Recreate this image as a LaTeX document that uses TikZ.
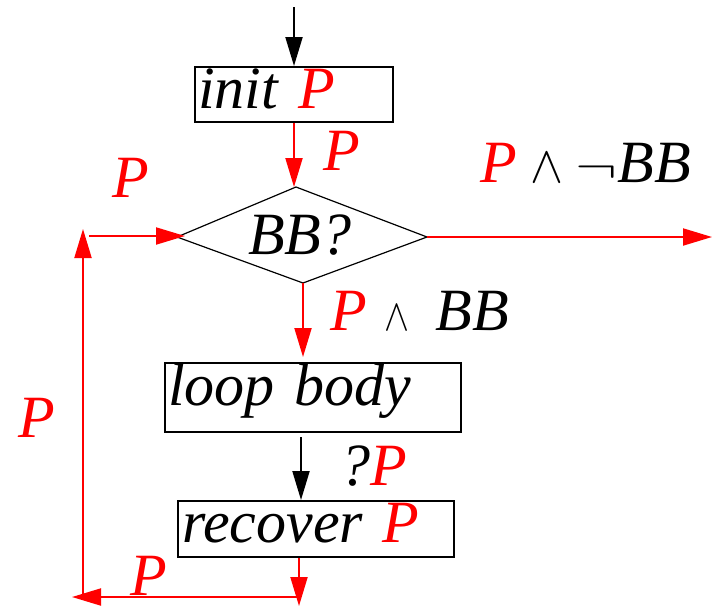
\documentclass[tikz,border=0pt]{standalone}
\usepackage{fontspec}
\usepackage{graphicx}
\setmainfont{Liberation Serif}[ItalicFont={Liberation Serif Italic}]
\usetikzlibrary{arrows.meta}
\newcommand{\bigtext}{\fontsize{60}{60}\selectfont\itshape}
\begin{document}
\begin{tikzpicture}[x=1pt,y=-1pt]
\tikzset{
  box/.style={draw, line width=2pt, inner xsep=3pt, inner ysep=0pt, align=left, font=\bigtext},
  lbl/.style={anchor=base west, inner sep=0pt, font=\bigtext},
  arr/.style={line width=2pt, -{Triangle[length=29pt,width=17pt]}},
  redarr/.style={arr, red},
  dia/.style={line width=1.2pt}
}
\useasboundingbox (0,0) rectangle (714,608);
% boxes
\node[box, text width=192pt, minimum height=55pt, text height=41pt, text depth=14pt] (init) at (294,94.5) {init {\color{red}P}};
\node[box, text width=290pt, minimum height=69pt, text height=35pt, text depth=20pt] (loop) at (313,397.5) {loop body};
\node[box, inner xsep=4pt, text width=268pt, minimum height=56pt, text height=40pt, text depth=14pt] (rec) at (316,529) {recover {\color{red}P}};
% diamond
\coordinate (dT) at (296,187);
\coordinate (dL) at (177,237);
\coordinate (dR) at (427,237);
\coordinate (dB) at (303,283);
\draw[dia] (dT) -- (dR) -- (dB) -- (dL) -- cycle;
\node[lbl] (bb) at (248,254) {BB?};
% coordinates
\coordinate (start) at (294,7);
\coordinate (exitR) at (712,237);
\coordinate (c1) at (301,437);
\coordinate (r1) at (299,606);
\coordinate (b1) at (299,597);
\coordinate (b2) at (72,597);
\coordinate (b3) at (83,597);
\coordinate (b4) at (83,229);
\coordinate (t1) at (89,236);
% connectors
\draw[arr] (start) -- (init.north);
\draw[redarr] (init.south) -- (init.south |- dT);
\draw[redarr] (dR) -- (exitR);
\draw[redarr, shorten >=5pt] (dB) -- (dB |- loop.north);
\draw[arr] (c1) -- (c1 |- rec.north);
\draw[redarr] (rec.south -| r1) -- (r1);
\draw[redarr] (b1) -- (b2);
\draw[redarr] (b3) -- (b4);
\draw[redarr, shorten >=-8pt] (t1) -- (t1 -| dL);
% labels
\node[lbl, red] (l1) at (323,170) {P};
\node[lbl] (l2) at (480,182) {{\color{red}P}\hspace{14pt}\resizebox{33pt}{29pt}{$\wedge$}\hspace{12pt}\resizebox{42pt}{20pt}{$\neg$}BB};
\node[lbl, red] (l3) at (112,197) {P};
\node[lbl] (l4) at (330,330) {{\color{red}P}\hspace{18pt}\resizebox{25pt}{25pt}{$\wedge$}\hspace{26pt}BB};
\node[lbl, red] (l5) at (18,437) {P};
\node[lbl] (l6) at (340,485) {?{\color{red}P}};
\node[lbl, red] (l7) at (130,595) {P};
\end{tikzpicture}
\end{document}
